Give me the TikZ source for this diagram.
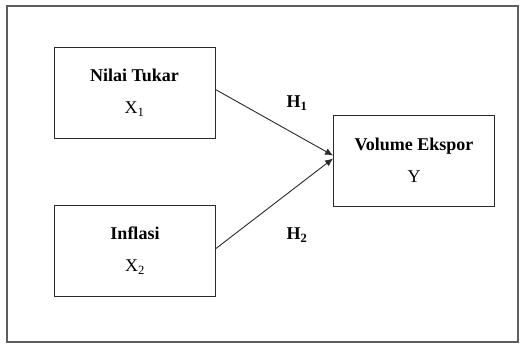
\documentclass[tikz,border=0pt]{standalone}
\usepackage{fontspec}
\setmainfont{Liberation Serif}
\usetikzlibrary{arrows.meta}
\definecolor{framegray}{HTML}{5E5E5E}
\definecolor{linegray}{HTML}{2A2A2A}
\tikzset{
  frame/.style={draw=framegray, line width=1.2pt},
  varbox/.style={draw=linegray, line width=0.9pt, minimum width=161pt, minimum height=91pt,
    align=center, inner sep=0pt, font=\fontsize{18}{21}\selectfont},
  link/.style={draw=linegray, line width=0.9pt, -{Latex[length=8pt,width=7pt]}},
  hyp/.style={font=\fontsize{18}{21}\selectfont\bfseries, inner sep=0pt}
}
\begin{document}
\begin{tikzpicture}[x=1pt,y=-1pt]
\useasboundingbox (0,0) rectangle (526,344);
\draw[frame] (7,6) rectangle (518,342);

\node[varbox] (nt)  at (134.5,92.5) {\textbf{Nilai Tukar}\\[11pt]X\textsubscript{1}};
\node[varbox] (inf) at (135,250.5)  {\textbf{Inflasi}\\[11pt]X\textsubscript{2}};
\node[varbox] (ve)  at (414,160.5)  {\textbf{Volume Ekspor}\\[11pt]Y};

\draw[link] ([yshift=3pt]nt.east) -- ([yshift=5pt]ve.west);
\draw[link] ([yshift=2pt]inf.east) -- ([yshift=2pt]ve.west);

\node[hyp] (h1) at (297,103) {H\textsubscript{1}};
\node[hyp] (h2) at (297,235) {H\textsubscript{2}};
\end{tikzpicture}
\end{document}
